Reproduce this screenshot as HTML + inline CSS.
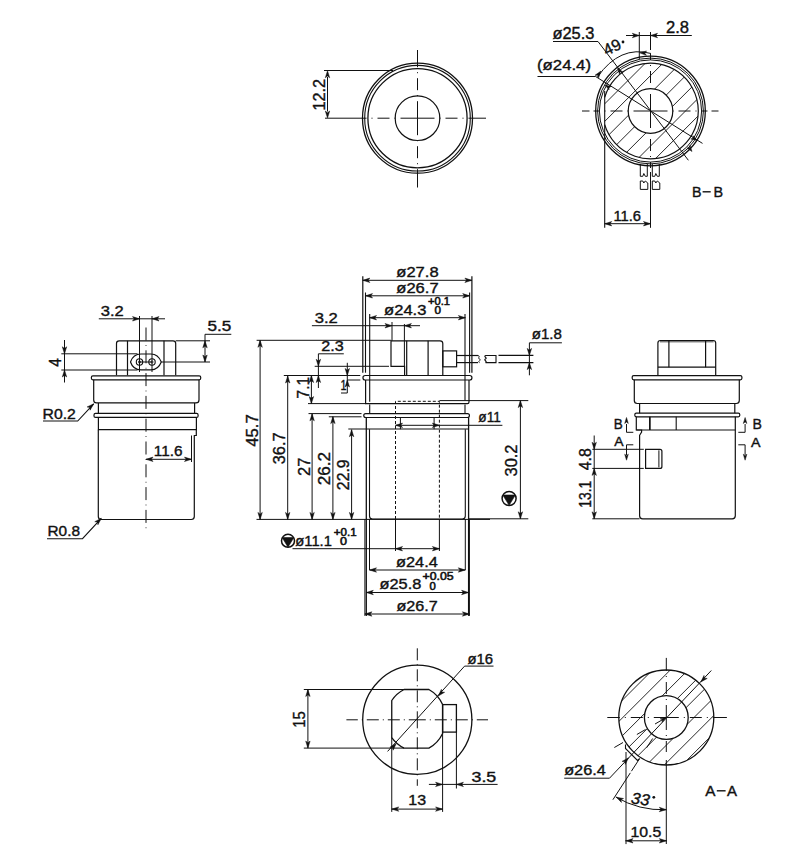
<!DOCTYPE html>
<html><head><meta charset="utf-8"><style>
html,body{margin:0;padding:0;background:#fff;width:800px;height:865px;overflow:hidden}
svg{display:block}
text{font-family:"Liberation Sans",sans-serif;fill:#111;stroke:#111;stroke-width:0.38}
</style></head><body>
<svg width="800" height="865" viewBox="0 0 800 865">
<g fill="none" stroke="#111" stroke-linecap="butt">
<circle cx="417.5" cy="118.2" r="55" stroke-width="1.3" />
<circle cx="417.5" cy="118.2" r="52.8" stroke-width="1.1" />
<circle cx="417.5" cy="118.2" r="49.6" stroke-width="1.3" />
<circle cx="417.5" cy="118.2" r="22.3" stroke-width="1.2" />
<path d="M417.5 118.2 L417.5 101.2 M417.5 96.2 L417.5 95.2 M417.5 90.2 L417.5 78.2 M417.5 73.2 L417.5 72.2 M417.5 67.2 L417.5 50 M417.5 118.2 L417.5 135.2 M417.5 140.2 L417.5 141.2 M417.5 146.2 L417.5 158.2 M417.5 163.2 L417.5 164.2 M417.5 169.2 L417.5 187.5 M417.5 118.2 L400.5 118.2 M395.5 118.2 L394.5 118.2 M389.5 118.2 L377.5 118.2 M372.5 118.2 L371.5 118.2 M366.5 118.2 L325 118.2 M417.5 118.2 L434.5 118.2 M439.5 118.2 L440.5 118.2 M445.5 118.2 L457.5 118.2 M462.5 118.2 L463.5 118.2 M468.5 118.2 L486 118.2" stroke-width="1.0"/>
<line x1="324" y1="70.5" x2="393" y2="70.5" stroke-width="1.0" />
<line x1="327.5" y1="77" x2="327.5" y2="111.5" stroke-width="1.0" />
<path d="M327.5 70.8 L329.7 77.8 L327.5 76.05 L325.3 77.8 Z" fill="#111" stroke-width="0.5"/>
<path d="M327.5 118 L325.3 111 L327.5 112.75 L329.7 111 Z" fill="#111" stroke-width="0.5"/>
<text transform="translate(324.5 110.5) rotate(-90)" x="0" y="0" font-size="16" textLength="31.5" lengthAdjust="spacingAndGlyphs">12.2</text>
<clipPath id="cbb"><path d="M604.7 40 L720 40 L720 180 L604.7 180 Z"/></clipPath>
<clipPath id="cbb2"><path d="M602.7 111 A47.8 47.8 0 1 0 698.3 111 A47.8 47.8 0 1 0 602.7 111 Z M628.2 111 A22.3 22.3 0 1 1 672.8 111 A22.3 22.3 0 1 1 628.2 111 Z" clip-rule="evenodd"/></clipPath>
<g clip-path="url(#cbb2)">
<path d="M468.1 170 L588.1 50 M485.7 170 L605.7 50 M503.3 170 L623.3 50 M520.9 170 L640.9 50 M538.5 170 L658.5 50 M556.1 170 L676.1 50 M573.7 170 L693.7 50 M591.3 170 L711.3 50 M608.9 170 L728.9 50 M626.5 170 L746.5 50 M644.1 170 L764.1 50 M661.7 170 L781.7 50 M679.3 170 L799.3 50 M696.9 170 L816.9 50 M714.5 170 L834.5 50" stroke-width="0.9" clip-path="url(#cbb)"/>
</g>
<circle cx="650.5" cy="111" r="22.3" stroke-width="1.2" />
<circle cx="650.5" cy="111" r="54.8" stroke-width="1.3" />
<circle cx="650.5" cy="111" r="52.9" stroke-width="1.0" />
<circle cx="650.5" cy="111" r="51.1" stroke-width="1.0" />
<path d="M604.7 97.32 A47.8 47.8 0 1 1 604.7 124.68" stroke-width="1.2" />
<line x1="604.7" y1="91" x2="604.7" y2="227.8" stroke-width="1.1" />
<path d="M650.5 111 L633.5 111 M628.5 111 L627.5 111 M622.5 111 L610.5 111 M605.5 111 L604.5 111 M599.5 111 L593.5 111 M589.5 111 L582 111 M650.5 111 L667.5 111 M672.5 111 L673.5 111 M678.5 111 L690.5 111 M695.5 111 L696.5 111 M701.5 111 L707.5 111 M711.5 111 L718.5 111 M650.5 111 L650.5 94 M650.5 89 L650.5 88 M650.5 83 L650.5 71 M650.5 66 L650.5 65 M650.5 60 L650.5 54 M650.5 50 L650.5 32 M650.5 111 L650.5 128 M650.5 133 L650.5 134 M650.5 139 L650.5 151 M650.5 156 L650.5 157 M650.5 162 L650.5 168 M650.5 172 L650.5 227.8" stroke-width="1.0"/>
<line x1="639.3" y1="32" x2="639.3" y2="59" stroke-width="1.0" />
<line x1="626" y1="35.5" x2="691.8" y2="35.5" stroke-width="1.0" />
<path d="M639.3 35.5 L632.3 37.7 L634.05 35.5 L632.3 33.3 Z" fill="#111" stroke-width="0.5"/>
<path d="M650.5 35.5 L657.5 33.3 L655.75 35.5 L657.5 37.7 Z" fill="#111" stroke-width="0.5"/>
<text x="666" y="32.5" font-size="16" textLength="23" lengthAdjust="spacingAndGlyphs" >2.8</text>
<path d="M553 41.5 L598 41.5 L688.4 160.3" stroke-width="1.0" />
<text x="552.4" y="38.6" font-size="16" textLength="42" lengthAdjust="spacingAndGlyphs" >ø25.3</text>
<path d="M537.5 76.5 L595.6 76.5 L702.5 143.4" stroke-width="1.0" />
<text x="537" y="70" font-size="15.5" textLength="54" lengthAdjust="spacingAndGlyphs" >(ø24.4)</text>
<path d="M617.5 68.2 L622.7 71.8 L620.2 71.8 L619.5 74.2 Z" fill="#111" stroke-width="0.5"/>
<path d="M692 151.5 L686.8 147.9 L689.3 147.9 L690 145.5 Z" fill="#111" stroke-width="0.5"/>
<path d="M605 85 L611.15 86.48 L608.82 87.38 L609.03 89.87 Z" fill="#111" stroke-width="0.5"/>
<path d="M697 140.5 L690.85 139.02 L693.18 138.12 L692.97 135.63 Z" fill="#111" stroke-width="0.5"/>
<path d="M597.5 77 Q619.8 45 651 53.5" stroke-width="1.0" />
<path d="M601 71 L598.56 77.92 L597.85 75.2 L595.04 75.28 Z" fill="#111" stroke-width="0.5"/>
<path d="M639.5 52.8 L646.6 50.95 L644.74 53.06 L646.38 55.35 Z" fill="#111" stroke-width="0.5"/>
<text transform="translate(606.5 56) rotate(-26)" x="0" y="0" font-size="16" >49</text>
<circle cx="623" cy="42" r="1.4" stroke-width="0" fill="#111"/>
<path d="M640.3 164 L640.3 176.3 L642.8 176.3 L643.8 173.5 L645.3 176.3 L647.3 176.3 L647.3 164" stroke-width="1.0" />
<path d="M640.3 181 L640.3 189.4 L647.8 189.4 L647.8 183 L645.3 181 L643.8 183 L642.8 181 L640.3 181" stroke-width="1.0" />
<path d="M652.3 164 L652.3 176.3 L654.8 176.3 L655.8 173.5 L657.3 176.3 L659.3 176.3 L659.3 164" stroke-width="1.0" />
<path d="M652.3 181 L652.3 189.4 L659.8 189.4 L659.8 183 L657.3 181 L655.8 183 L654.8 181 L652.3 181" stroke-width="1.0" />
<line x1="604.7" y1="223.7" x2="650.5" y2="223.7" stroke-width="1.0" />
<path d="M604.7 223.7 L611.7 221.5 L609.95 223.7 L611.7 225.9 Z" fill="#111" stroke-width="0.5"/>
<path d="M650.5 223.7 L643.5 225.9 L645.25 223.7 L643.5 221.5 Z" fill="#111" stroke-width="0.5"/>
<text x="613.4" y="220.7" font-size="14.5" textLength="27.6" lengthAdjust="spacingAndGlyphs" >11.6</text>
<text x="692" y="197.1" font-size="15.4" textLength="9.5" lengthAdjust="spacingAndGlyphs" >B</text>
<line x1="702.6" y1="191.8" x2="710.7" y2="191.8" stroke-width="1.4" />
<text x="713.4" y="197.1" font-size="15.4" textLength="9.6" lengthAdjust="spacingAndGlyphs" >B</text>
<path d="M116.5 375.3 L116.5 343.5 Q116.5 340.8 119.2 340.8 L173 340.8 Q175.7 340.8 175.7 343.5 L175.7 375.3" stroke-width="1.2" />
<line x1="127.5" y1="340.8" x2="127.5" y2="375.3" stroke-width="1.2" />
<line x1="164" y1="340.8" x2="164" y2="375.3" stroke-width="1.2" />
<path d="M130.5 362 C132 357.5 135 354 141 354 L151 354 C157 354 159.5 357.5 161.3 362 C159.5 366.5 157 369.8 151 369.8 L141 369.8 C135 369.8 132 366.5 130.5 362 Z" stroke-width="1.2" />
<circle cx="139.5" cy="362" r="3.2" stroke-width="1.1" />
<circle cx="152" cy="362" r="3.2" stroke-width="1.1" />
<line x1="139.5" y1="362" x2="152" y2="362" stroke-width="1.0" />
<circle cx="139.5" cy="362" r="1.1" stroke-width="0.8" />
<circle cx="152" cy="362" r="1.1" stroke-width="0.8" />
<rect x="91.4" y="375.8" width="109.3" height="4" rx="1.5" stroke-width="1.2" />
<path d="M93.7 379.8 L93.7 400 Q93.7 402.9 96.5 402.9 L196 402.9 Q199 402.9 199 400 L199 379.8" stroke-width="1.2" />
<line x1="98.4" y1="402.9" x2="98.4" y2="413.4" stroke-width="1.2" />
<line x1="194.6" y1="402.9" x2="194.6" y2="413.4" stroke-width="1.2" />
<rect x="94" y="413.4" width="104.1" height="4" rx="1.5" stroke-width="1.2" />
<path d="M98.4 417.4 L98.4 429.7 L196.4 429.7 L196.4 417.4" stroke-width="1.2" />
<path d="M98.3 429.7 L98.3 516.5 Q98.3 519.5 101.3 519.5 L191.3 519.5 Q194.3 519.5 194.3 516.5 L194.3 435.5 L196.3 435.5 L196.3 429.7" stroke-width="1.2" />
<line x1="191.5" y1="435.5" x2="191.5" y2="462" stroke-width="1.0" />
<line x1="146" y1="327.5" x2="146" y2="530" stroke-width="1.0" stroke-dasharray="13 4.5 0.8 4.5"/>
<line x1="139.5" y1="316" x2="139.5" y2="372" stroke-width="1.0" />
<line x1="152" y1="316" x2="152" y2="372" stroke-width="1.0" />
<line x1="98.8" y1="318.8" x2="165" y2="318.8" stroke-width="1.0" />
<path d="M139.5 318.8 L132.5 321 L134.25 318.8 L132.5 316.6 Z" fill="#111" stroke-width="0.5"/>
<path d="M152 318.8 L159 316.6 L157.25 318.8 L159 321 Z" fill="#111" stroke-width="0.5"/>
<text x="100.8" y="316.3" font-size="14.5" textLength="23" lengthAdjust="spacingAndGlyphs" >3.2</text>
<line x1="175.7" y1="340.8" x2="210" y2="340.8" stroke-width="1.0" />
<line x1="161.3" y1="362" x2="210" y2="362" stroke-width="1.0" />
<path d="M231.3 334.3 L205 334.3 L205 362" stroke-width="1.0" />
<path d="M205 340.8 L207.2 347.8 L205 346.05 L202.8 347.8 Z" fill="#111" stroke-width="0.5"/>
<path d="M205 362 L202.8 355 L205 356.75 L207.2 355 Z" fill="#111" stroke-width="0.5"/>
<text x="207.5" y="331.3" font-size="14.5" textLength="23.8" lengthAdjust="spacingAndGlyphs" >5.5</text>
<line x1="61.3" y1="353.8" x2="137.5" y2="353.8" stroke-width="1.0" />
<line x1="61.3" y1="370" x2="137.5" y2="370" stroke-width="1.0" />
<line x1="64.5" y1="340" x2="64.5" y2="382.5" stroke-width="1.0" />
<path d="M64.5 353.8 L62.3 346.8 L64.5 348.55 L66.7 346.8 Z" fill="#111" stroke-width="0.5"/>
<path d="M64.5 370 L66.7 377 L64.5 375.25 L62.3 377 Z" fill="#111" stroke-width="0.5"/>
<text transform="translate(61.3 366.8) rotate(-90)" x="0" y="0" font-size="16" textLength="8.6" lengthAdjust="spacingAndGlyphs">4</text>
<path d="M43 421 L77.7 421 L93.7 403.8" stroke-width="1.1" />
<path d="M93.7 403.8 L90.08 410.18 L89.86 407.38 L87.08 406.96 Z" fill="#111" stroke-width="0.5"/>
<text x="42.5" y="418.8" font-size="14.5" textLength="33.3" lengthAdjust="spacingAndGlyphs" >R0.2</text>
<path d="M47 538.7 L82.5 538.7 L101.3 518.3" stroke-width="1.1" />
<path d="M101.3 518.3 L97.91 524.81 L97.59 522.01 L94.79 521.69 Z" fill="#111" stroke-width="0.5"/>
<text x="47.5" y="535.5" font-size="14.5" textLength="32.5" lengthAdjust="spacingAndGlyphs" >R0.8</text>
<line x1="146" y1="459.3" x2="191.5" y2="459.3" stroke-width="1.0" />
<path d="M146 459.3 L153 457.1 L151.25 459.3 L153 461.5 Z" fill="#111" stroke-width="0.5"/>
<path d="M191.5 459.3 L184.5 461.5 L186.25 459.3 L184.5 457.1 Z" fill="#111" stroke-width="0.5"/>
<text x="153.8" y="455.8" font-size="14.5" textLength="28.7" lengthAdjust="spacingAndGlyphs" >11.6</text>
<line x1="362.8" y1="276.3" x2="362.8" y2="372.7" stroke-width="1.2" />
<line x1="471.9" y1="276.3" x2="471.9" y2="372.7" stroke-width="1.2" />
<line x1="365.5" y1="292.5" x2="365.5" y2="372.7" stroke-width="1.1" />
<line x1="469.6" y1="292.5" x2="469.6" y2="372.7" stroke-width="1.1" />
<line x1="369.7" y1="314" x2="369.7" y2="401.8" stroke-width="1.1" />
<line x1="465" y1="314" x2="465" y2="400.6" stroke-width="1.1" />
<line x1="362.8" y1="280.3" x2="471.9" y2="280.3" stroke-width="1.0" />
<path d="M362.8 280.3 L369.8 278.1 L368.05 280.3 L369.8 282.5 Z" fill="#111" stroke-width="0.5"/>
<path d="M471.9 280.3 L464.9 282.5 L466.65 280.3 L464.9 278.1 Z" fill="#111" stroke-width="0.5"/>
<text x="396.3" y="277" font-size="14.5" textLength="42.3" lengthAdjust="spacingAndGlyphs" >ø27.8</text>
<line x1="365.5" y1="295.8" x2="469.7" y2="295.8" stroke-width="1.0" />
<path d="M365.5 295.8 L372.5 293.6 L370.75 295.8 L372.5 298 Z" fill="#111" stroke-width="0.5"/>
<path d="M469.7 295.8 L462.7 298 L464.45 295.8 L462.7 293.6 Z" fill="#111" stroke-width="0.5"/>
<text x="396.3" y="292.5" font-size="14.5" textLength="42.3" lengthAdjust="spacingAndGlyphs" >ø26.7</text>
<line x1="369.5" y1="317.7" x2="465.4" y2="317.7" stroke-width="1.0" />
<path d="M369.5 317.7 L376.5 315.5 L374.75 317.7 L376.5 319.9 Z" fill="#111" stroke-width="0.5"/>
<path d="M465.4 317.7 L458.4 319.9 L460.15 317.7 L458.4 315.5 Z" fill="#111" stroke-width="0.5"/>
<text x="384.1" y="315.3" font-size="14.5" textLength="42.3" lengthAdjust="spacingAndGlyphs" >ø24.3</text>
<text x="428" y="304.7" font-size="10.5" textLength="22" lengthAdjust="spacingAndGlyphs" style="stroke-width:0.55">+0.1</text>
<text x="434.5" y="314.4" font-size="10.5" textLength="6.5" lengthAdjust="spacingAndGlyphs" style="stroke-width:0.55">0</text>
<path d="M391 340.8 L440 340.8 Q442.8 340.8 442.8 343.6 L442.8 375.7" stroke-width="1.2" />
<path d="M391 340.8 L391 366.3 L404.6 366.3 L404.6 375.7" stroke-width="1.2" />
<line x1="406.7" y1="340.8" x2="406.7" y2="375.7" stroke-width="1.2" />
<line x1="428.1" y1="340.8" x2="428.1" y2="375.7" stroke-width="1.2" />
<line x1="404.4" y1="324" x2="404.4" y2="366.3" stroke-width="1.0" />
<rect x="442.8" y="350.9" width="13.8" height="15.9" rx="0" stroke-width="1.2" />
<line x1="456.6" y1="355.5" x2="478" y2="355.5" stroke-width="1.2" />
<line x1="456.6" y1="362.6" x2="478" y2="362.6" stroke-width="1.2" />
<path d="M478 355.5 C481 356.5 477 358 479.5 359 C482 360 477 361.5 479.5 362.6" stroke-width="1.0" />
<path d="M485.5 355.5 L496 355.5 L496 362.6 L485.5 362.6 C488 361.5 483 360 485.5 359 C488 358 483 356.5 485.5 355.5" stroke-width="1.1" />
<line x1="498.5" y1="355.4" x2="533.4" y2="355.4" stroke-width="1.1" />
<line x1="498.5" y1="362.6" x2="533.4" y2="362.6" stroke-width="1.1" />
<line x1="529.4" y1="342.8" x2="529.4" y2="375.3" stroke-width="1.0" />
<path d="M529.4 355.4 L527.2 348.4 L529.4 350.15 L531.6 348.4 Z" fill="#111" stroke-width="0.5"/>
<path d="M529.4 362.6 L531.6 369.6 L529.4 367.85 L527.2 369.6 Z" fill="#111" stroke-width="0.5"/>
<path d="M529.4 342.8 L561.9 342.8" stroke-width="1.0" />
<text x="531.8" y="339.2" font-size="14.5" textLength="30.1" lengthAdjust="spacingAndGlyphs" >ø1.8</text>
<line x1="311.9" y1="325.7" x2="420" y2="325.7" stroke-width="1.0" />
<path d="M392 325.7 L385 327.9 L386.75 325.7 L385 323.5 Z" fill="#111" stroke-width="0.5"/>
<path d="M404.4 325.7 L411.4 323.5 L409.65 325.7 L411.4 327.9 Z" fill="#111" stroke-width="0.5"/>
<line x1="392" y1="322" x2="392" y2="340.8" stroke-width="1.0" />
<text x="314.7" y="322.9" font-size="14.5" textLength="23.1" lengthAdjust="spacingAndGlyphs" >3.2</text>
<line x1="256.6" y1="340.3" x2="391" y2="340.3" stroke-width="1.0" />
<path d="M343.8 353.8 L318.4 353.8 L318.4 388" stroke-width="1.0" />
<line x1="314.7" y1="366.3" x2="389" y2="366.3" stroke-width="1.0" />
<path d="M318.4 366.3 L316.2 359.3 L318.4 361.05 L320.6 359.3 Z" fill="#111" stroke-width="0.5"/>
<path d="M318.4 375.5 L320.6 382.5 L318.4 380.75 L316.2 382.5 Z" fill="#111" stroke-width="0.5"/>
<text x="321.3" y="350.6" font-size="14.5" textLength="22.5" lengthAdjust="spacingAndGlyphs" >2.3</text>
<path d="M341 393 L347.3 393 L347.3 362.8" stroke-width="1.0" />
<path d="M347.3 375.5 L345.1 368.5 L347.3 370.25 L349.5 368.5 Z" fill="#111" stroke-width="0.5"/>
<path d="M347.3 380 L349.5 387 L347.3 385.25 L345.1 387 Z" fill="#111" stroke-width="0.5"/>
<text x="340.5" y="389.8" font-size="14" textLength="6" lengthAdjust="spacingAndGlyphs" >1</text>
<line x1="283.8" y1="375.5" x2="360.3" y2="375.5" stroke-width="1.0" />
<line x1="347.5" y1="380" x2="360.3" y2="380" stroke-width="1.0" />
<path d="M365.2 375.5 L469.7 375.5 A2.25 2.25 0 0 1 469.7 380 L365.2 380 A2.25 2.25 0 0 1 365.2 375.5 Z" stroke-width="1.2" />
<path d="M365.6 380 L365.6 403.6 L467.5 403.6 Q469 403.6 469 402 L469 380" stroke-width="1.2" />
<line x1="308" y1="403.6" x2="365.6" y2="403.6" stroke-width="1.0" />
<line x1="311.4" y1="375.5" x2="311.4" y2="403.6" stroke-width="1.0" />
<path d="M311.4 375.5 L313.6 382.5 L311.4 380.75 L309.2 382.5 Z" fill="#111" stroke-width="0.5"/>
<path d="M311.4 403.6 L309.2 396.6 L311.4 398.35 L313.6 396.6 Z" fill="#111" stroke-width="0.5"/>
<text transform="translate(308.8 398.4) rotate(-90)" x="0" y="0" font-size="16" textLength="21.5" lengthAdjust="spacingAndGlyphs">7.1</text>
<line x1="308.5" y1="413.6" x2="361.5" y2="413.6" stroke-width="1.0" />
<path d="M365.7 413.6 L467.5 413.6 A1.95 1.95 0 0 1 467.5 417.5 L365.7 417.5 A1.95 1.95 0 0 1 365.7 413.6 Z" stroke-width="1.2" />
<line x1="369.7" y1="404.6" x2="369.7" y2="413.6" stroke-width="1.1" />
<line x1="465" y1="404.6" x2="465" y2="413.6" stroke-width="1.1" />
<line x1="328.8" y1="416.8" x2="361.5" y2="416.8" stroke-width="1.0" />
<line x1="348.3" y1="429" x2="366.3" y2="429" stroke-width="1.0" />
<line x1="366.3" y1="429" x2="468.6" y2="429" stroke-width="1.1" />
<line x1="366.3" y1="417.5" x2="366.3" y2="615.9" stroke-width="1.3" />
<line x1="468.6" y1="417.5" x2="468.6" y2="615.9" stroke-width="1.3" />
<path d="M369.5 429.2 L369.5 516 Q369.5 519 372.5 519 L462.3 519 Q465.3 519 465.3 516 L465.3 429.2" stroke-width="1.1" />
<line x1="369.5" y1="519" x2="369.5" y2="570" stroke-width="1.0" />
<line x1="465.3" y1="519" x2="465.3" y2="570" stroke-width="1.0" />
<line x1="364.9" y1="519" x2="364.9" y2="615.9" stroke-width="1.0" />
<line x1="469.4" y1="519" x2="469.4" y2="615.9" stroke-width="1.0" />
<path d="M395.5 519 L395.5 401.3 L439.4 401.3 L439.4 519" stroke-width="1.0" stroke-dasharray="3 2"/>
<line x1="395.5" y1="519" x2="395.5" y2="551" stroke-width="1.0" />
<line x1="439.4" y1="519" x2="439.4" y2="551" stroke-width="1.0" />
<line x1="439.4" y1="400.6" x2="528.3" y2="400.6" stroke-width="1.0" />
<line x1="400.4" y1="417.3" x2="400.4" y2="429.2" stroke-width="1.0" />
<line x1="434.1" y1="417.3" x2="434.1" y2="429.2" stroke-width="1.0" />
<line x1="395.5" y1="425.3" x2="502.4" y2="425.3" stroke-width="1.0" />
<path d="M395.5 425.3 L402.5 423.1 L400.75 425.3 L402.5 427.5 Z" fill="#111" stroke-width="0.5"/>
<path d="M439.4 425.3 L432.4 427.5 L434.15 425.3 L432.4 423.1 Z" fill="#111" stroke-width="0.5"/>
<text x="478.3" y="422" font-size="14.5" textLength="22.5" lengthAdjust="spacingAndGlyphs" >ø11</text>
<line x1="256.5" y1="519.4" x2="490" y2="519.4" stroke-width="1.0" />
<line x1="260.1" y1="340.3" x2="260.1" y2="519.4" stroke-width="1.0" />
<path d="M260.1 340.3 L262.3 347.3 L260.1 345.55 L257.9 347.3 Z" fill="#111" stroke-width="0.5"/>
<path d="M260.1 519.4 L257.9 512.4 L260.1 514.15 L262.3 512.4 Z" fill="#111" stroke-width="0.5"/>
<line x1="287.7" y1="376" x2="287.7" y2="519.4" stroke-width="1.0" />
<path d="M287.7 376 L289.9 383 L287.7 381.25 L285.5 383 Z" fill="#111" stroke-width="0.5"/>
<path d="M287.7 519.4 L285.5 512.4 L287.7 514.15 L289.9 512.4 Z" fill="#111" stroke-width="0.5"/>
<line x1="312.1" y1="413.8" x2="312.1" y2="519.4" stroke-width="1.0" />
<path d="M312.1 413.8 L314.3 420.8 L312.1 419.05 L309.9 420.8 Z" fill="#111" stroke-width="0.5"/>
<path d="M312.1 519.4 L309.9 512.4 L312.1 514.15 L314.3 512.4 Z" fill="#111" stroke-width="0.5"/>
<line x1="332.9" y1="416.6" x2="332.9" y2="519.4" stroke-width="1.0" />
<path d="M332.9 416.6 L335.1 423.6 L332.9 421.85 L330.7 423.6 Z" fill="#111" stroke-width="0.5"/>
<path d="M332.9 519.4 L330.7 512.4 L332.9 514.15 L335.1 512.4 Z" fill="#111" stroke-width="0.5"/>
<line x1="351.6" y1="429.7" x2="351.6" y2="519.4" stroke-width="1.0" />
<path d="M351.6 429.7 L353.8 436.7 L351.6 434.95 L349.4 436.7 Z" fill="#111" stroke-width="0.5"/>
<path d="M351.6 519.4 L349.4 512.4 L351.6 514.15 L353.8 512.4 Z" fill="#111" stroke-width="0.5"/>
<text transform="translate(258 446.8) rotate(-90)" x="0" y="0" font-size="16" textLength="32.5" lengthAdjust="spacingAndGlyphs">45.7</text>
<text transform="translate(285 464.2) rotate(-90)" x="0" y="0" font-size="16" textLength="31.7" lengthAdjust="spacingAndGlyphs">36.7</text>
<text transform="translate(309.8 476) rotate(-90)" x="0" y="0" font-size="16" textLength="18.3" lengthAdjust="spacingAndGlyphs">27</text>
<text transform="translate(330.4 485.3) rotate(-90)" x="0" y="0" font-size="16" textLength="33.3" lengthAdjust="spacingAndGlyphs">26.2</text>
<text transform="translate(348.8 490.2) rotate(-90)" x="0" y="0" font-size="16" textLength="30.9" lengthAdjust="spacingAndGlyphs">22.9</text>
<line x1="520.4" y1="400.6" x2="520.4" y2="518.8" stroke-width="1.0" />
<path d="M520.4 400.6 L522.6 407.6 L520.4 405.85 L518.2 407.6 Z" fill="#111" stroke-width="0.5"/>
<path d="M520.4 518.8 L518.2 511.8 L520.4 513.55 L522.6 511.8 Z" fill="#111" stroke-width="0.5"/>
<line x1="469" y1="518.8" x2="528.3" y2="518.8" stroke-width="1.0" />
<text transform="translate(516.6 476.5) rotate(-90)" x="0" y="0" font-size="16" textLength="32" lengthAdjust="spacingAndGlyphs">30.2</text>
<circle cx="509.1" cy="498.5" r="7" stroke-width="1.5" fill="#fff"/>
<path d="M502.8 495 L515.4 495 L509.1 505.36 Z" fill="#111" stroke="#111" stroke-width="0.6"/>
<circle cx="288" cy="540.8" r="6.5" stroke-width="1.5" fill="#fff"/>
<path d="M282.15 537.55 L293.85 537.55 L288 547.17 Z" fill="#111" stroke="#111" stroke-width="0.6"/>
<text x="295.3" y="545.8" font-size="14.5" textLength="36.6" lengthAdjust="spacingAndGlyphs" >ø11.1</text>
<text x="333.8" y="536.1" font-size="10.5" textLength="22.8" lengthAdjust="spacingAndGlyphs" style="stroke-width:0.55">+0.1</text>
<text x="340" y="545" font-size="10.5" textLength="7" lengthAdjust="spacingAndGlyphs" style="stroke-width:0.55">0</text>
<line x1="292.5" y1="548.7" x2="440" y2="548.7" stroke-width="1.0" />
<path d="M395.5 548.7 L402.5 546.5 L400.75 548.7 L402.5 550.9 Z" fill="#111" stroke-width="0.5"/>
<path d="M439.4 548.7 L432.4 550.9 L434.15 548.7 L432.4 546.5 Z" fill="#111" stroke-width="0.5"/>
<line x1="369.5" y1="570" x2="465.3" y2="570" stroke-width="1.0" />
<path d="M369.5 570 L376.5 567.8 L374.75 570 L376.5 572.2 Z" fill="#111" stroke-width="0.5"/>
<path d="M465.3 570 L458.3 572.2 L460.05 570 L458.3 567.8 Z" fill="#111" stroke-width="0.5"/>
<text x="396" y="567.2" font-size="14.5" textLength="41.8" lengthAdjust="spacingAndGlyphs" >ø24.4</text>
<line x1="366.3" y1="592.5" x2="468.6" y2="592.5" stroke-width="1.0" />
<path d="M366.3 592.5 L373.3 590.3 L371.55 592.5 L373.3 594.7 Z" fill="#111" stroke-width="0.5"/>
<path d="M468.6 592.5 L461.6 594.7 L463.35 592.5 L461.6 590.3 Z" fill="#111" stroke-width="0.5"/>
<text x="379.5" y="589.2" font-size="14.5" textLength="41.8" lengthAdjust="spacingAndGlyphs" >ø25.8</text>
<text x="422.6" y="580.1" font-size="10.5" textLength="31.1" lengthAdjust="spacingAndGlyphs" style="stroke-width:0.55">+0.05</text>
<text x="429.5" y="589.8" font-size="10.5" textLength="6.3" lengthAdjust="spacingAndGlyphs" style="stroke-width:0.55">0</text>
<line x1="364.9" y1="614" x2="469.4" y2="614" stroke-width="1.0" />
<path d="M364.9 614 L371.9 611.8 L370.15 614 L371.9 616.2 Z" fill="#111" stroke-width="0.5"/>
<path d="M469.4 614 L462.4 616.2 L464.15 614 L462.4 611.8 Z" fill="#111" stroke-width="0.5"/>
<text x="396.5" y="611.2" font-size="14.5" textLength="41.3" lengthAdjust="spacingAndGlyphs" >ø26.7</text>
<path d="M657.9 375.1 L657.9 343 Q657.9 340.5 660.4 340.5 L713.2 340.5 Q715.7 340.5 715.7 343 L715.7 375.1" stroke-width="1.2" />
<line x1="660" y1="341.8" x2="713.6" y2="341.8" stroke-width="0.8" />
<line x1="668.9" y1="340.5" x2="668.9" y2="367.2" stroke-width="1.2" />
<line x1="705.6" y1="340.5" x2="705.6" y2="367.2" stroke-width="1.2" />
<line x1="657.9" y1="367.2" x2="715.7" y2="367.2" stroke-width="1.2" />
<rect x="632.2" y="375.6" width="109.7" height="4.2" rx="1.5" stroke-width="1.2" />
<path d="M634.3 379.8 L634.3 400.5 Q634.3 403.5 637.3 403.5 L736.3 403.5 Q739.3 403.5 739.3 400.5 L739.3 379.8" stroke-width="1.2" />
<line x1="639.6" y1="403.5" x2="639.6" y2="413.2" stroke-width="1.2" />
<line x1="734.8" y1="403.5" x2="734.8" y2="413.2" stroke-width="1.2" />
<rect x="634.8" y="413.2" width="105" height="3.6" rx="1.5" stroke-width="1.2" />
<path d="M636.3 416.8 L636.3 430 L641.6 430 L641.6 432 L639.6 435.3 L639.6 515.8 Q639.6 518.8 642.6 518.8 L732.3 518.8 Q735.3 518.8 735.3 515.8 L735.3 416.8" stroke-width="1.2" />
<line x1="636.3" y1="430" x2="735.3" y2="430" stroke-width="1.2" />
<line x1="649.85" y1="416.8" x2="649.85" y2="430" stroke-width="1.7" />
<line x1="676.2" y1="416.8" x2="676.2" y2="430" stroke-width="1.1" />
<path d="M645.6 449.3 L660 449.3 Q661.9 449.3 661.9 451.3 L661.9 466.4 Q661.9 468.4 660 468.4 L645.6 468.4 Z" stroke-width="1.2" />
<line x1="658.9" y1="450.3" x2="658.9" y2="467.4" stroke-width="1.0" />
<text x="613.8" y="428.6" font-size="15" textLength="9" lengthAdjust="spacingAndGlyphs" >B</text>
<path d="M633.3 432.3 L626.5 432.3 L626.5 424" stroke-width="1.0" />
<path d="M626.5 417.5 L628.3 423.5 L626.5 422 L624.7 423.5 Z" fill="#111" stroke-width="0.5"/>
<text x="752.6" y="428.6" font-size="15" textLength="9.4" lengthAdjust="spacingAndGlyphs" >B</text>
<path d="M738.3 432.3 L745.1 432.3 L745.1 424" stroke-width="1.0" />
<path d="M745.1 417.5 L746.9 423.5 L745.1 422 L743.3 423.5 Z" fill="#111" stroke-width="0.5"/>
<text x="614.2" y="446" font-size="12.5" textLength="9.3" lengthAdjust="spacingAndGlyphs" >A</text>
<path d="M633.3 444.8 L626.5 444.8 L626.5 455" stroke-width="1.0" />
<path d="M626.5 460.2 L624.7 454.2 L626.5 455.7 L628.3 454.2 Z" fill="#111" stroke-width="0.5"/>
<text x="751" y="447" font-size="12.5" textLength="9.5" lengthAdjust="spacingAndGlyphs" >A</text>
<path d="M738.3 444.8 L745.1 444.8 L745.1 455" stroke-width="1.0" />
<path d="M745.1 460.2 L743.3 454.2 L745.1 455.7 L746.9 454.2 Z" fill="#111" stroke-width="0.5"/>
<line x1="594.2" y1="435.5" x2="594.2" y2="518.8" stroke-width="1.0" />
<line x1="592.3" y1="449.3" x2="643.8" y2="449.3" stroke-width="1.0" />
<line x1="592.3" y1="468.4" x2="643.8" y2="468.4" stroke-width="1.0" />
<line x1="592.3" y1="518.8" x2="639.6" y2="518.8" stroke-width="1.0" />
<path d="M594.2 449.3 L592 442.3 L594.2 444.05 L596.4 442.3 Z" fill="#111" stroke-width="0.5"/>
<path d="M594.2 468.4 L596.4 475.4 L594.2 473.65 L592 475.4 Z" fill="#111" stroke-width="0.5"/>
<path d="M594.2 518.8 L592 511.8 L594.2 513.55 L596.4 511.8 Z" fill="#111" stroke-width="0.5"/>
<text transform="translate(591.2 470.3) rotate(-90)" x="0" y="0" font-size="16" textLength="22.1" lengthAdjust="spacingAndGlyphs">4.8</text>
<text transform="translate(591.2 507.8) rotate(-90)" x="0" y="0" font-size="16" textLength="27" lengthAdjust="spacingAndGlyphs">13.1</text>
<circle cx="417.3" cy="719.8" r="54.6" stroke-width="1.3" />
<path d="M391.75 700.5 A32 32 0 0 1 404.1 689.5 L428.9 689.5 A32 32 0 0 1 442.6 704.6 L442.6 733.5 A32 32 0 0 1 428.9 748.1 L404.1 748.1 A32 32 0 0 1 391.75 737.6 Z" stroke-width="1.3" />
<rect x="442.6" y="704.6" width="13.8" height="27.5" rx="0" stroke-width="1.3" />
<path d="M417.3 719.8 L417.3 711.3 M417.3 707.3 L417.3 706.3 M417.3 702.3 L417.3 690.3 M417.3 686.3 L417.3 685.3 M417.3 681.3 L417.3 669.3 M417.3 665.3 L417.3 664.3 M417.3 660.3 L417.3 648.3 M417.3 719.8 L417.3 728.3 M417.3 732.3 L417.3 733.3 M417.3 737.3 L417.3 749.3 M417.3 753.3 L417.3 754.3 M417.3 758.3 L417.3 770.3 M417.3 774.3 L417.3 775.3 M417.3 779.3 L417.3 785.8 M417.3 719.8 L408.8 719.8 M404.8 719.8 L403.8 719.8 M399.8 719.8 L387.8 719.8 M383.8 719.8 L382.8 719.8 M378.8 719.8 L366.8 719.8 M362.8 719.8 L361.8 719.8 M357.8 719.8 L346.4 719.8 M417.3 719.8 L425.8 719.8 M429.8 719.8 L430.8 719.8 M434.8 719.8 L446.8 719.8 M450.8 719.8 L451.8 719.8 M455.8 719.8 L467.8 719.8 M471.8 719.8 L472.8 719.8 M476.8 719.8 L488 719.8" stroke-width="1.0"/>
<line x1="303.8" y1="689.5" x2="404" y2="689.5" stroke-width="1.0" />
<line x1="303.8" y1="748.1" x2="404" y2="748.1" stroke-width="1.0" />
<line x1="307.9" y1="689.5" x2="307.9" y2="748.1" stroke-width="1.0" />
<path d="M307.9 689.5 L310.1 696.5 L307.9 694.75 L305.7 696.5 Z" fill="#111" stroke-width="0.5"/>
<path d="M307.9 748.1 L305.7 741.1 L307.9 742.85 L310.1 741.1 Z" fill="#111" stroke-width="0.5"/>
<text transform="translate(304.6 727.8) rotate(-90)" x="0" y="0" font-size="16" textLength="16.6" lengthAdjust="spacingAndGlyphs">15</text>
<path d="M387.6 751.4 L464.6 666.1 L493.5 666.1" stroke-width="1.0" />
<path d="M438.3 696 L441.37 689.33 L441.82 692.11 L444.63 692.29 Z" fill="#111" stroke-width="0.5"/>
<path d="M396.2 743.5 L393.13 750.17 L392.68 747.39 L389.87 747.21 Z" fill="#111" stroke-width="0.5"/>
<text x="467.4" y="664.2" font-size="14.5" textLength="25.6" lengthAdjust="spacingAndGlyphs" >ø16</text>
<line x1="391.75" y1="737.6" x2="391.75" y2="811.9" stroke-width="1.0" />
<line x1="442.6" y1="733.5" x2="442.6" y2="811.9" stroke-width="1.0" />
<line x1="391.75" y1="809.1" x2="442.6" y2="809.1" stroke-width="1.0" />
<path d="M391.75 809.1 L398.75 806.9 L397 809.1 L398.75 811.3 Z" fill="#111" stroke-width="0.5"/>
<path d="M442.6 809.1 L435.6 811.3 L437.35 809.1 L435.6 806.9 Z" fill="#111" stroke-width="0.5"/>
<text x="408.3" y="805" font-size="14.5" textLength="17.8" lengthAdjust="spacingAndGlyphs" >13</text>
<line x1="456.4" y1="732" x2="456.4" y2="788.5" stroke-width="1.0" />
<line x1="428.9" y1="784.4" x2="497.6" y2="784.4" stroke-width="1.0" />
<path d="M442.6 784.4 L435.6 786.6 L437.35 784.4 L435.6 782.2 Z" fill="#111" stroke-width="0.5"/>
<path d="M456.4 784.4 L463.4 782.2 L461.65 784.4 L463.4 786.6 Z" fill="#111" stroke-width="0.5"/>
<text x="471.5" y="781.6" font-size="14.5" textLength="24.8" lengthAdjust="spacingAndGlyphs" >3.5</text>
<clipPath id="caa"><path d="M618.8 717.5 A47.5 47.5 0 1 0 713.8 717.5 A47.5 47.5 0 1 0 618.8 717.5 Z M644.4 717.5 A21.9 21.9 0 1 1 688.1999999999999 717.5 A21.9 21.9 0 1 1 644.4 717.5 Z" clip-rule="evenodd"/></clipPath>
<path d="M489.1 780 L609.1 660 M506.9 780 L626.9 660 M524.7 780 L644.7 660 M542.5 780 L662.5 660 M560.3 780 L680.3 660 M578.1 780 L698.1 660 M595.9 780 L715.9 660 M613.7 780 L733.7 660 M631.5 780 L751.5 660 M649.3 780 L769.3 660 M667.1 780 L787.1 660 M684.9 780 L804.9 660 M702.7 780 L822.7 660 M720.5 780 L840.5 660" stroke-width="0.9" clip-path="url(#caa)"/>
<circle cx="666.3" cy="717.5" r="47.5" stroke-width="1.3" />
<circle cx="666.3" cy="717.5" r="21.9" stroke-width="1.3" />
<path d="M666.3 717.5 L653.8 717.5 M648.8 717.5 L647.8 717.5 M642.8 717.5 L630.8 717.5 M625.8 717.5 L624.8 717.5 M619.8 717.5 L607.3 717.5 M666.3 717.5 L678.8 717.5 M683.8 717.5 L684.8 717.5 M689.8 717.5 L701.8 717.5 M706.8 717.5 L707.8 717.5 M712.8 717.5 L726.9 717.5 M666.3 717.5 L666.3 705 M666.3 700 L666.3 699 M666.3 694 L666.3 682 M666.3 677 L666.3 676 M666.3 671 L666.3 657.9 M666.3 717.5 L666.3 730 M666.3 735 L666.3 736 M666.3 741 L666.3 752" stroke-width="1.0"/>
<line x1="666.3" y1="760" x2="666.3" y2="844" stroke-width="1.0" />
<path d="M564.2 778.2 L609.5 778.2 L711.3 670.5" stroke-width="1.0" />
<path d="M628.5 757.8 L625.29 764.4 L624.89 761.62 L622.09 761.38 Z" fill="#111" stroke-width="0.5"/>
<path d="M700.8 682 L704.01 675.4 L704.41 678.18 L707.21 678.42 Z" fill="#111" stroke-width="0.5"/>
<text x="564.2" y="775.2" font-size="14.5" textLength="41.6" lengthAdjust="spacingAndGlyphs" >ø26.4</text>
<line x1="666.3" y1="717.5" x2="655.04" y2="724" stroke-width="1.0" />
<line x1="645.52" y1="729.5" x2="636.86" y2="734.5" stroke-width="1.0" />
<line x1="623" y1="742.5" x2="614.34" y2="747.5" stroke-width="1.0" />
<path d="M666.3 717.5 L662.1 722.23 L662.4 719.75 L660.1 718.77 Z" fill="#111" stroke-width="0.5"/>
<line x1="652.67" y1="738.48" x2="646.68" y2="747.7" stroke-width="1.0" />
<line x1="639.05" y1="759.45" x2="631.42" y2="771.2" stroke-width="1.0" />
<line x1="630.33" y1="772.87" x2="612.89" y2="799.72" stroke-width="1.0" />
<path d="M625.5 744.5 L625.5 748.5 L637.5 760.5 L639.8 758.5" stroke-width="1.1" />
<path d="M615.8 797 A92 92 0 0 0 666.3 809.7" stroke-width="1.0" />
<path d="M616.3 797.2 L623.52 798.53 L620.94 799.66 L621.46 802.42 Z" fill="#111" stroke-width="0.5"/>
<path d="M666.3 809.7 L659.24 811.69 L661.05 809.54 L659.37 807.29 Z" fill="#111" stroke-width="0.5"/>
<text transform="translate(630.5 803.3) rotate(8)" font-size="16" font-style="italic" textLength="18.5" lengthAdjust="spacingAndGlyphs">33</text>
<circle cx="653.8" cy="797.3" r="1.4" stroke-width="0" fill="#111"/>
<line x1="626" y1="752" x2="626" y2="844.1" stroke-width="1.0" />
<line x1="625.2" y1="840.8" x2="666.8" y2="840.8" stroke-width="1.0" />
<path d="M626 840.8 L633 838.6 L631.25 840.8 L633 843 Z" fill="#111" stroke-width="0.5"/>
<path d="M666.3 840.8 L659.3 843 L661.05 840.8 L659.3 838.6 Z" fill="#111" stroke-width="0.5"/>
<text x="630.4" y="837.4" font-size="14.5" textLength="30.8" lengthAdjust="spacingAndGlyphs" >10.5</text>
<text x="705.3" y="795.8" font-size="14.75" textLength="10.2" lengthAdjust="spacingAndGlyphs" >A</text>
<line x1="716.8" y1="790.8" x2="725.6" y2="790.8" stroke-width="1.4" />
<text x="727" y="795.8" font-size="14.75" textLength="10" lengthAdjust="spacingAndGlyphs" >A</text>
</g>
</svg>
</body></html>
